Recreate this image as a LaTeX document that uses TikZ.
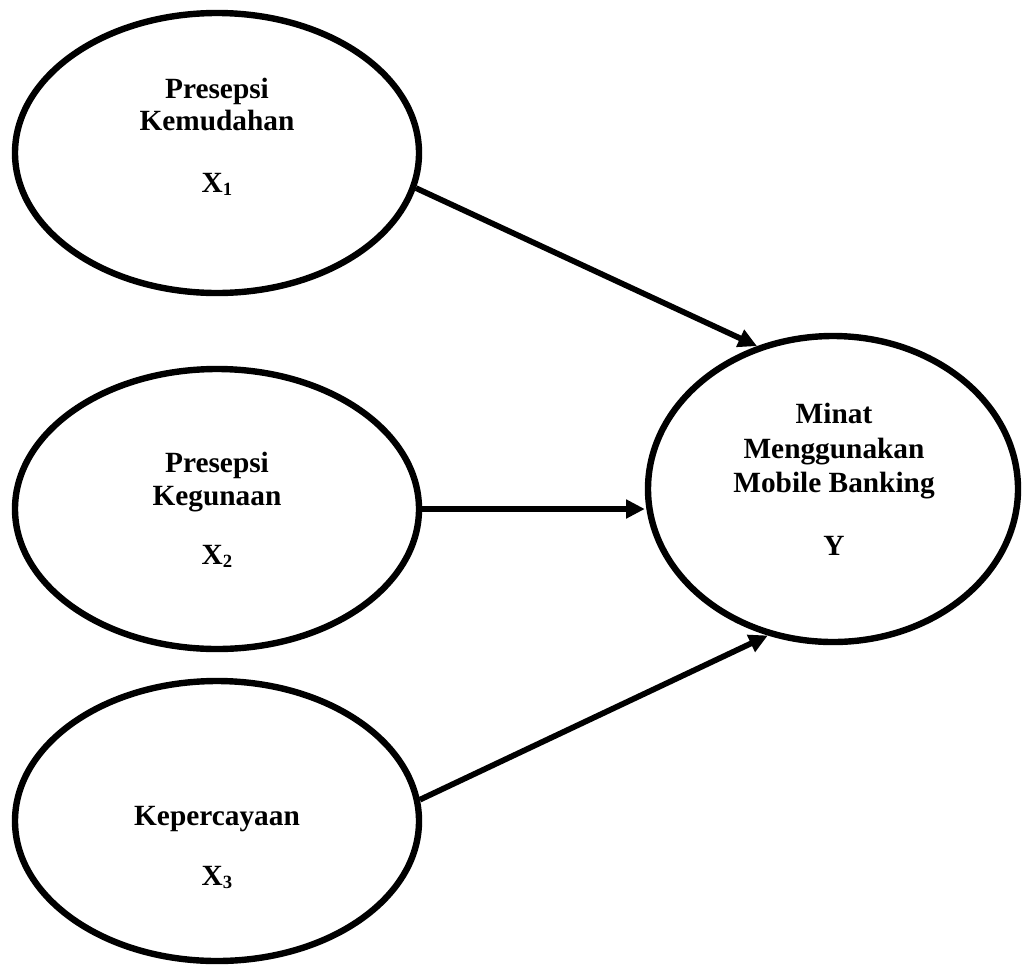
\documentclass[tikz,border=0pt]{standalone}
\usepackage{fontspec}
\setmainfont{Liberation Serif}
\usetikzlibrary{arrows.meta,shapes.geometric}
\newcommand{\subnum}[1]{\raisebox{-2.5pt}{\fontsize{14}{14}\selectfont #1}}
\begin{document}
\begin{tikzpicture}[x=0.75pt,y=-0.75pt,
  latent/.style={ellipse,draw,line width=4.8pt,inner sep=0pt,fill=none},
  xvar/.style={latent,minimum width=303pt,minimum height=210pt},
  yvar/.style={latent,minimum width=277.5pt,minimum height=229.5pt},
  lbl/.style={anchor=base,inner sep=0pt,font=\fontsize{22}{24}\selectfont\bfseries},
  path/.style={line width=4.3pt,-{Triangle[length=14pt,width=13.5pt]}}]
\useasboundingbox (0,0) rectangle (1023,968);
% latent variables
\node[xvar] (x1) at (217,153) {};
\node[xvar] (x2) at (217,509) {};
\node[xvar] (x3) at (217,821) {};
\node[yvar] (y) at (833,489) {};
% labels
\node[lbl] (x1a) at (217,98) {Presepsi};
\node[lbl] (x1b) at (217,130) {Kemudahan};
\node[lbl] (x1c) at (217,192) {X\subnum{1}};
\node[lbl] (x2a) at (217,472) {Presepsi};
\node[lbl] (x2b) at (217,505) {Kegunaan};
\node[lbl] (x2c) at (217,564) {X\subnum{2}};
\node[lbl] (x3a) at (217,825) {Kepercayaan};
\node[lbl] (x3b) at (217,885) {X\subnum{3}};
\node[lbl] (ya) at (834,423) {Minat};
\node[lbl] (yb) at (834,458) {Menggunakan};
\node[lbl] (yc) at (834,492) {Mobile Banking};
\node[lbl] (yd) at (834,555) {Y};
% paths
\draw[path] (x1.-10.4) -- (y.118.2);
\draw[path] (x2.east) -- (x2.east -| y.west);
\draw[path] (x3.6.8) -- (y.246.7);
\end{tikzpicture}
\end{document}
